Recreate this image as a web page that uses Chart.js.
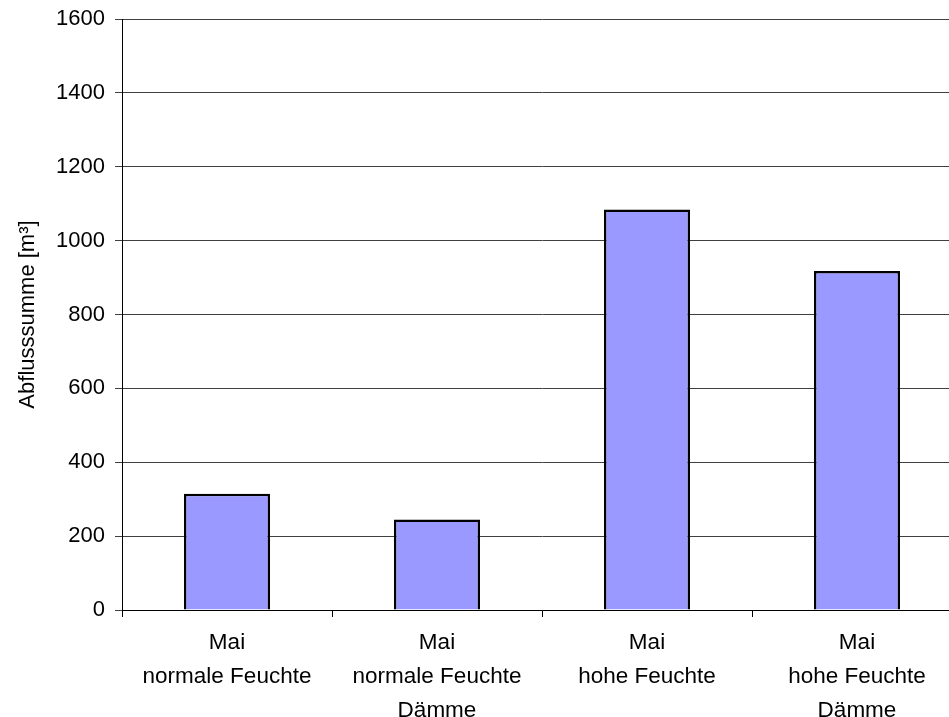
<!DOCTYPE html>
<html>
<head>
<meta charset="utf-8">
<script src="https://cdn.jsdelivr.net/npm/chart.js@4"></script>
<style>
  html, body { margin: 0; padding: 0; background: #fff; overflow: hidden; }
  #wrap { width: 962px; height: 717px; }
</style>
</head>
<body>
<div id="wrap"><canvas id="c" width="962" height="717"></canvas></div>
<script>
// Abflusssummen für die vier Szenarien im Mai
const categories = [
  ['Mai', 'normale Feuchte'],
  ['Mai', 'normale Feuchte', 'Dämme'],
  ['Mai', 'hohe Feuchte'],
  ['Mai', 'hohe Feuchte', 'Dämme']
];
const abflusssumme = [315, 245, 1084, 918];
const yTicks = [0, 200, 400, 600, 800, 1000, 1200, 1400, 1600];

const FONT = "'Liberation Sans', Arial, sans-serif";

new Chart(document.getElementById('c'), {
  type: 'bar',
  data: {
    labels: categories,
    datasets: [{
      data: abflusssumme,
      backgroundColor: '#9999FF',
      borderColor: '#000000',
      borderWidth: 2.5,
      barPercentage: 0.41,
      categoryPercentage: 1.0
    }]
  },
  options: {
    responsive: false,
    animation: false,
    layout: { padding: { top: 19, right: 0, bottom: 0, left: 0 } },
    plugins: { legend: { display: false }, tooltip: { enabled: false } },
    scales: {
      x: {
        grid: { drawOnChartArea: false, drawTicks: true, tickLength: 7, color: '#000', offset: true },
        border: { color: '#000', width: 1 },
        ticks: {
          color: '#000',
          font: { family: FONT, size: 22.5, lineHeight: 1.5 },
          padding: 9,
          maxRotation: 0,
          autoSkip: false
        },
        afterFit: (s) => { s.height = 107; }
      },
      y: {
        min: 0,
        max: 1600,
        afterBuildTicks: (s) => { s.ticks = yTicks.map(v => ({ value: v })); },
        grid: { color: '#404040', lineWidth: 1, tickLength: 7, drawTicks: true },
        border: { color: '#000', width: 1 },
        ticks: {
          color: '#000',
          font: { family: FONT, size: 22, lineHeight: 0.6 },
          padding: 10,
          callback: (v) => String(v)
        },
        title: {
          display: true,
          text: 'Abflusssumme [m³]',
          color: '#000',
          font: { family: FONT, size: 22 },
          padding: { top: 15, bottom: 0 }
        },
        afterFit: (s) => { s.width = 122; }
      }
    }
  }
});
</script>
</body>
</html>
